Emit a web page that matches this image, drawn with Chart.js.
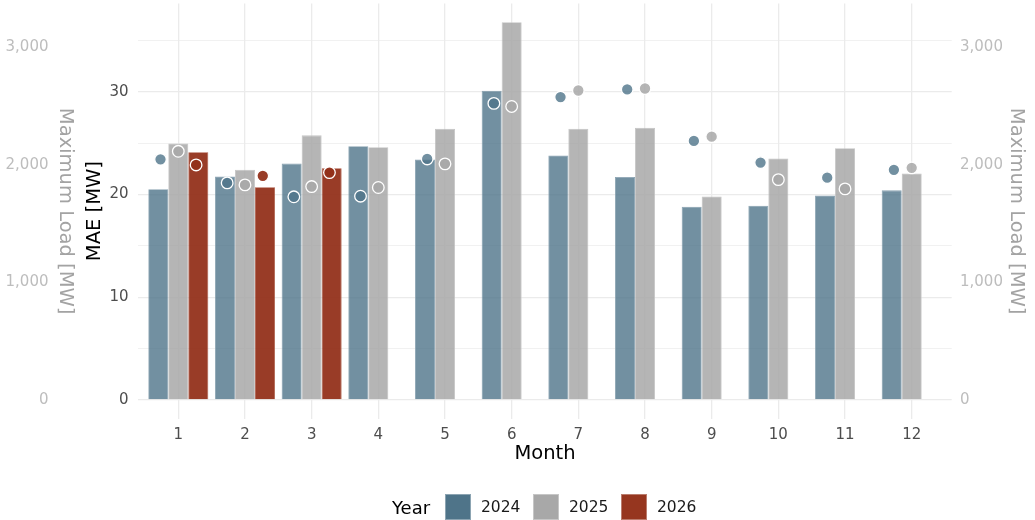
<!DOCTYPE html>
<html>
<head>
<meta charset="utf-8">
<script src="https://cdn.jsdelivr.net/npm/chart.js@4.4.1/dist/chart.umd.min.js"></script>
<style>
  html, body { margin: 0; padding: 0; background: #ffffff; }
  #wrap { position: relative; width: 1035px; height: 520px; }
  #c { position: absolute; left: 0; top: 0; }
  .lg { position: absolute; top: 494px; height: 27px; line-height: 27px; font-family: 'DejaVu Sans', sans-serif; color: #1a1a1a; white-space: nowrap; }
  .key { position: absolute; top: 494px; width: 26px; height: 26px; box-sizing: border-box; border: 1px solid rgba(255,255,255,0.35); }
</style>
</head>
<body>
<div id="wrap">
  <canvas id="c" width="1035" height="520"></canvas>
  <div class="lg" style="left:392px;font-size:18px;color:#000;">Year</div>
  <div class="key" style="left:445px;background:#4f7489;"></div>
  <div class="lg" style="left:481px;font-size:15.5px;">2024</div>
  <div class="key" style="left:533px;background:#a8a8a8;"></div>
  <div class="lg" style="left:569px;font-size:15.5px;">2025</div>
  <div class="key" style="left:621px;background:#96361f;"></div>
  <div class="lg" style="left:657px;font-size:15.5px;">2026</div>
</div>
<script>
// ---------------- data ----------------
const months = ['1', '2', '3', '4', '5', '6', '7', '8', '9', '10', '11', '12'];
const years = ['2024', '2025', '2026'];

// MAE [MW] (bars)
const mae2024 = [20.5, 21.75, 23.0, 24.7, 23.4, 30.1, 23.8, 21.7, 18.8, 18.9, 19.9, 20.4];
const mae2025 = [24.95, 22.4, 25.75, 24.6, 26.4, 36.75, 26.4, 26.5, 19.8, 23.5, 24.5, 22.05];
const mae2026 = [24.1, 20.7, 22.55];

// Maximum load [MW] (points)
const load2024 = [2047, 1846, 1728, 1733, 2050, 2522, 2576, 2641, 2203, 2019, 1891, 1957];
const load2025 = [2115, 1829, 1815, 1807, 2008, 2496, 2632, 2649, 2239, 1874, 1795, 1974];
const load2026 = [1999, 1906, 1934];

// tick labels
const maeTicks = [0, 10, 20, 30];
const loadTicks = [0, 1000, 2000, 3000];

// ---------------- styling / layout constants ----------------
const FONT = "'DejaVu Sans', sans-serif";
const barColors = ['rgba(79,116,137,0.8)', 'rgba(168,168,168,0.85)', 'rgba(148,50,27,0.95)'];
const barEdges = ['#8aa3b2', '#c4c4c4', '#aa5642'];
const pointColors = ['rgba(79,116,137,0.8)', 'rgba(168,168,168,0.85)', 'rgba(148,50,27,0.95)'];
const pointDodge = [-0.267, 0, 0.267];
const LOAD_PER_MAE = 87.4;           // secondary axis transform
const GRID = '#ebebeb';

const maeMax = Math.max(...mae2024, ...mae2025, ...mae2026);
const expand = 0.05 * maeMax;
const yMin = -expand, yMax = maeMax + expand;

const maeSets = [mae2024, mae2025, mae2026];
const loadSets = [load2024, load2025, load2026];

const datasets = [];
years.forEach((yr, j) => {
  datasets.push({
    type: 'bar',
    label: yr,
    data: maeSets[j].map((v, i) => ({ x: i + 1, y: v })),
    backgroundColor: barColors[j],
    borderColor: barEdges[j],
    borderWidth: 0.8,
    borderSkipped: 'start',
    categoryPercentage: 0.9,
    barPercentage: 1.0,
    xAxisID: 'x',
    yAxisID: 'y',
    order: 2
  });
});
years.forEach((yr, j) => {
  datasets.push({
    type: 'scatter',
    label: yr + ' max load',
    data: loadSets[j].map((v, i) => ({ x: i + 1 + pointDodge[j], y: v })),
    backgroundColor: pointColors[j],
    pointBackgroundColor: pointColors[j],
    pointBorderColor: '#ffffff',
    pointBorderWidth: 1.3,
    pointRadius: 5.8,
    showLine: false,
    xAxisID: 'x',
    yAxisID: 'yLoad',
    order: 1
  });
});

const leftTitle = {
  id: 'leftTitle',
  afterDraw(chart) {
    const s = chart.scales.yLoad;
    const ctx = chart.ctx;
    ctx.save();
    ctx.translate(65, (s.top + s.bottom) / 2);
    ctx.rotate(Math.PI / 2);
    ctx.font = "19.5px " + FONT;
    ctx.fillStyle = '#a3a3a3';
    ctx.textAlign = 'center';
    ctx.textBaseline = 'middle';
    ctx.fillText('Maximum Load [MW]', 0, 0);
    ctx.restore();
  }
};

const zeroPadV = s => { s.paddingTop = 0; s.paddingBottom = 0; };

Chart.defaults.font.family = FONT;

new Chart(document.getElementById('c'), {
  type: 'bar',
  data: { datasets },
  plugins: [leftTitle],
  options: {
    responsive: false,
    animation: false,
    events: [],
    layout: { padding: { top: 3.4, left: 0, right: 0, bottom: 0 }, autoPadding: false },
    plugins: { legend: { display: false }, tooltip: { enabled: false } },
    scales: {
      x: {
        type: 'linear',
        position: 'bottom',
        min: 0.4,
        max: 12.6,
        offset: false,
        afterBuildTicks: s => { s.ticks = months.map((m, i) => ({ value: i + 1 })); },
        ticks: {
          padding: 7,
          color: '#4d4d4d',
          font: { size: 15 },
          maxRotation: 0,
          autoSkip: false,
          callback: v => months[Math.round(v) - 1]
        },
        grid: { color: GRID, lineWidth: 1.3, drawTicks: false, offset: false },
        border: { display: false },
        title: { display: true, text: 'Month', color: '#000000', font: { size: 19.5 }, padding: { top: 0, bottom: 54 } },
        afterFit: s => { s.height = 101.1; s.paddingLeft = 0; s.paddingRight = 0; }
      },
      y: {
        type: 'linear',
        position: 'left',
        weight: 0,
        min: yMin,
        max: yMax,
        afterBuildTicks: s => { s.ticks = maeTicks.flatMap(v => [v, v + 5]).map(v => ({ value: v })); },
        ticks: {
          padding: 9.8,
          color: '#4d4d4d',
          font: { size: 15 },
          callback: v => maeTicks.includes(v) ? String(v) : ''
        },
        grid: {
          drawTicks: false,
          color: GRID,
          lineWidth: ctx => (ctx.tick && maeTicks.includes(ctx.tick.value)) ? 1.3 : 0.7
        },
        border: { display: false },
        title: { display: true, text: 'MAE [MW]', color: '#000000', font: { size: 19.5 }, padding: { top: 34.8, bottom: 0 } },
        afterFit: s => { s.width = 89.8; zeroPadV(s); }
      },
      yLoad: {
        type: 'linear',
        position: 'left',
        weight: 1,
        min: yMin * LOAD_PER_MAE,
        max: yMax * LOAD_PER_MAE,
        afterBuildTicks: s => { s.ticks = loadTicks.map(v => ({ value: v })); },
        ticks: {
          padding: 0,
          color: '#bdbdbd',
          font: { size: 15 },
          callback: v => v.toLocaleString('en-US')
        },
        grid: { display: false, drawTicks: false },
        border: { display: false },
        title: { display: false },
        afterFit: s => { s.width = 48.5; zeroPadV(s); }
      },
      yLoadR: {
        type: 'linear',
        position: 'right',
        min: yMin * LOAD_PER_MAE,
        max: yMax * LOAD_PER_MAE,
        afterBuildTicks: s => { s.ticks = loadTicks.map(v => ({ value: v })); },
        ticks: {
          padding: 8.3,
          color: '#bdbdbd',
          font: { size: 15 },
          callback: v => v.toLocaleString('en-US')
        },
        grid: { display: false, drawTicks: false },
        border: { display: false },
        title: { display: true, text: 'Maximum Load [MW]', color: '#a3a3a3', font: { size: 19.5 }, padding: { top: 7.3, bottom: 0 } },
        afterFit: s => { s.width = 83.3; zeroPadV(s); }
      }
    }
  }
});
</script>
</body>
</html>
